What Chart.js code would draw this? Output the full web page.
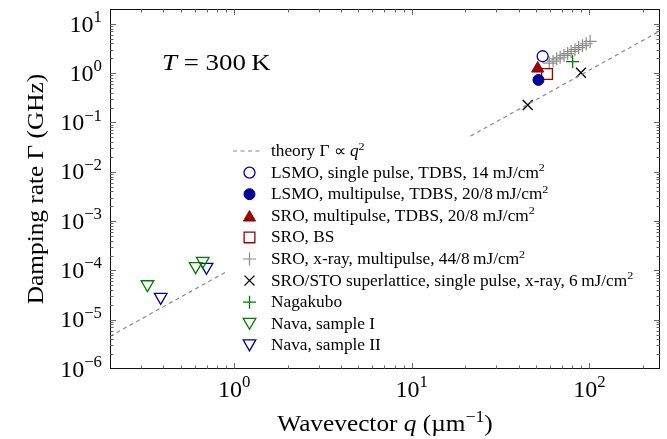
<!DOCTYPE html>
<html>
<head>
<meta charset="utf-8">
<script src="https://cdn.jsdelivr.net/npm/chart.js@4.4.1/dist/chart.umd.min.js"></script>
<style>
  html, body { margin: 0; padding: 0; background: #fff; }
  canvas { display: block; }
</style>
</head>
<body>
<canvas id="c" width="667" height="439"></canvas>
<script>
// Damping rate Γ (GHz) versus wavevector q (µm⁻¹), room temperature
const lsmoSingleQ = [54.6];
const lsmoSingleG = [2.2];
const lsmoMultiQ = [51.7];
const lsmoMultiG = [0.73];
const sroMultiQ = [51.2];
const sroMultiG = [1.24];
const sroBsQ = [57.8];
const sroBsG = [0.96];
const sroXrayQ = [59.5, 62.5, 65.5, 68.5, 72, 75.5, 79, 83, 87, 91.5, 96, 101];
const sroXrayG = [1.6, 1.75, 1.95, 2.1, 2.3, 2.5, 2.75, 3.0, 3.3, 3.6, 3.95, 4.4];
const superlatticeQ = [45, 89.7];
const superlatticeG = [0.226, 1.02];
const nagakuboQ = [80.5];
const nagakuboG = [1.71];
const navaIQ = [0.325, 0.607, 0.666];
const navaIG = [5.2e-5, 1.21e-4, 1.55e-4];
const navaIIQ = [0.386, 0.699];
const navaIIG = [2.88e-5, 1.17e-4];
// theory Γ ∝ q², drawn between the axis limits
const theoryQ = [0.2, 250];
const theoryG = [4.6e-6, 7.19];

const xTickDecades = [0, 1, 2];
const yTickDecades = [-6, -5, -4, -3, -2, -1, 0, 1];

const BLUE = '#000099', RED = '#990000', GREEN = '#007a00', GRAY = '#8a8a8a', BLACK = '#000';
const FONT = '"Liberation Serif", "Times New Roman", serif';

function pts(qs, gs) { return qs.map((q, i) => ({ x: q, y: gs[i] })); }

// Tiny markup: *x* italic, ^{x} superscript
function parseRich(s) {
  const parts = [];
  const re = /\*([^*]+)\*|\^\{([^}]*)\}/g;
  let last = 0, m;
  while ((m = re.exec(s))) {
    if (m.index > last) parts.push({ t: s.slice(last, m.index) });
    if (m[1] !== undefined) parts.push({ t: m[1], it: true });
    else parts.push({ t: m[2], sup: true });
    last = re.lastIndex;
  }
  if (last < s.length) parts.push({ t: s.slice(last) });
  return parts;
}

// Draws mixed upright/italic/superscript text; k widens the glyphs horizontally
function drawRich(ctx, str, x, y, size, align, k) {
  k = k || 1;
  const parts = parseRich(str);
  const fontFor = p => (p.it ? 'italic ' : '') + (p.sup ? size * 0.7 : size) + 'px ' + FONT;
  let w = 0;
  parts.forEach(p => { ctx.font = fontFor(p); p.w = ctx.measureText(p.t).width; w += p.w; });
  const sx = align === 'right' ? x - w * k : (align === 'center' ? x - w * k / 2 : x);
  ctx.save();
  ctx.translate(sx, y);
  ctx.scale(k, 1);
  ctx.textBaseline = 'alphabetic';
  ctx.textAlign = 'left';
  let cx = 0;
  parts.forEach(p => {
    ctx.font = fontFor(p);
    ctx.fillText(p.t, cx, p.sup ? -size * 0.4 : 0);
    cx += p.w;
  });
  ctx.restore();
  return w * k;
}

function decadeInfo(v) {
  const e = Math.floor(Math.log10(v) + 1e-9);
  const s = v / Math.pow(10, e);
  if (Math.abs(s - Math.round(s)) > 1e-6) return null;
  return { e: e, s: Math.round(s) };
}

function powLabel(e) { return '10^{' + (e < 0 ? '\u2212' + (-e) : e) + '}'; }

// Axes frame, inward tick marks on all four sides, tick labels, titles and legend
const framePlugin = {
  id: 'frame',
  afterDatasetsDraw(chart) {
    const ctx = chart.ctx;
    const a = chart.chartArea;
    const xs = chart.scales.x, ys = chart.scales.y;
    ctx.save();

    // legend panel with white background
    const lg = { x0: 228, y0: 137, x1: 642, y1: 356, markX: 249.5, textX: 271, rowY: 151, step: 21.6 };
    ctx.fillStyle = '#fff';
    ctx.fillRect(lg.x0, lg.y0, lg.x1 - lg.x0, lg.y1 - lg.y0);
    chart.data.datasets.forEach((ds, i) => {
      const y = lg.rowY + i * lg.step;
      if (ds.showLine) {
        ctx.save();
        ctx.strokeStyle = ds.borderColor;
        ctx.lineWidth = ds.borderWidth;
        ctx.setLineDash(ds.borderDash);
        ctx.beginPath();
        ctx.moveTo(233, y);
        ctx.lineTo(263, y);
        ctx.stroke();
        ctx.restore();
      } else {
        ctx.save();
        ctx.fillStyle = ds.pointBackgroundColor;
        ctx.strokeStyle = ds.pointBorderColor;
        ctx.lineWidth = ds.pointBorderWidth;
        const r = ds.pointRadius;
        const rot = ds.pointRotation || 0;
        const dy = ds.pointStyle === 'triangle' ? (rot === 180 ? -r / 4 : r / 4) : 0;
        Chart.helpers.drawPoint(ctx, { pointStyle: ds.pointStyle, radius: r, rotation: rot, borderWidth: ds.pointBorderWidth }, lg.markX, y + dy);
        ctx.restore();
      }
      ctx.fillStyle = '#000';
      drawRich(ctx, ds.label, lg.textX, y + 5, 16, 'left', 1.08);
    });

    // frame
    ctx.strokeStyle = '#111';
    ctx.lineWidth = 1;
    ctx.strokeRect(a.left + 0.5, a.top + 0.5, a.right - a.left - 1, a.bottom - a.top - 1);

    // tick marks
    ctx.strokeStyle = '#555';
    ctx.lineWidth = 0.9;
    ctx.beginPath();
    xs.ticks.forEach(t => {
      const info = decadeInfo(t.value);
      if (!info) return;
      const px = Math.round(xs.getPixelForValue(t.value)) + 0.5;
      if (px < a.left + 2 || px > a.right - 2) return;
      const len = info.s === 1 ? 6 : 3.5;
      ctx.moveTo(px, a.bottom); ctx.lineTo(px, a.bottom - len);
      ctx.moveTo(px, a.top); ctx.lineTo(px, a.top + len);
    });
    ys.ticks.forEach(t => {
      const info = decadeInfo(t.value);
      if (!info) return;
      const py = Math.round(ys.getPixelForValue(t.value)) + 0.5;
      if (py < a.top + 2 || py > a.bottom - 2) return;
      const len = info.s === 1 ? 6 : 3.5;
      ctx.moveTo(a.left, py); ctx.lineTo(a.left + len, py);
      ctx.moveTo(a.right, py); ctx.lineTo(a.right - len, py);
    });
    ctx.stroke();

    // tick labels
    ctx.fillStyle = '#000';
    xTickDecades.forEach(e => {
      const px = xs.getPixelForValue(Math.pow(10, e));
      drawRich(ctx, powLabel(e), px, 397, 24, 'center', 1);
    });
    yTickDecades.forEach(e => {
      const py = ys.getPixelForValue(Math.pow(10, e));
      drawRich(ctx, powLabel(e), 102, py + 7.7, 24, 'right', 1);
    });

    // axis titles
    drawRich(ctx, 'Wavevector *q* (\u00b5m^{\u22121})', (a.left + a.right) / 2, 431, 23, 'center', 1.1);
    ctx.save();
    ctx.translate(43, (a.top + a.bottom) / 2);
    ctx.rotate(-Math.PI / 2);
    drawRich(ctx, 'Damping rate \u0393 (GHz)', 0, 0, 23, 'center', 1.1);
    ctx.restore();

    // temperature note
    drawRich(ctx, '*T* = 300\u2009K', 162, 70, 24, 'left', 1.12);

    ctx.restore();
  }
};

const datasets = [
  { label: 'theory \u0393 \u221d *q*^{2}', data: pts(theoryQ, theoryG), showLine: true,
    borderColor: GRAY, borderWidth: 1.2, borderDash: [4, 3.5], pointRadius: 0, pointHoverRadius: 0 },
  { label: 'LSMO, single pulse, TDBS, 14 mJ/cm^{2}', data: pts(lsmoSingleQ, lsmoSingleG),
    pointStyle: 'circle', pointRadius: 5.5, pointBorderWidth: 1.3, pointBorderColor: BLUE, pointBackgroundColor: 'rgba(255,255,255,0)' },
  { label: 'LSMO, multipulse, TDBS, 20/8\u2009mJ/cm^{2}', data: pts(lsmoMultiQ, lsmoMultiG),
    pointStyle: 'circle', pointRadius: 5.5, pointBorderWidth: 1, pointBorderColor: BLUE, pointBackgroundColor: BLUE },
  { label: 'SRO, multipulse, TDBS, 20/8 mJ/cm^{2}', data: pts(sroMultiQ, sroMultiG),
    pointStyle: 'triangle', pointRadius: 7, pointBorderWidth: 1, pointBorderColor: RED, pointBackgroundColor: RED },
  { label: 'SRO, BS', data: pts(sroBsQ, sroBsG),
    pointStyle: 'rect', pointRadius: 7.6, pointBorderWidth: 1.3, pointBorderColor: RED, pointBackgroundColor: 'rgba(255,255,255,0)' },
  { label: 'SRO, x-ray, multipulse, 44/8\u2009mJ/cm^{2}', data: pts(sroXrayQ, sroXrayG),
    pointStyle: 'cross', pointRadius: 6.5, pointBorderWidth: 1.2, pointBorderColor: GRAY, pointBackgroundColor: GRAY },
  { label: 'SRO/STO superlattice, single pulse, x-ray, 6\u2009mJ/cm^{2}', data: pts(superlatticeQ, superlatticeG),
    pointStyle: 'crossRot', pointRadius: 7, pointBorderWidth: 1.3, pointBorderColor: BLACK, pointBackgroundColor: BLACK },
  { label: 'Nagakubo', data: pts(nagakuboQ, nagakuboG),
    pointStyle: 'cross', pointRadius: 6.5, pointBorderWidth: 1.3, pointBorderColor: GREEN, pointBackgroundColor: GREEN },
  { label: 'Nava, sample I', data: pts(navaIQ, navaIG),
    pointStyle: 'triangle', pointRotation: 180, pointRadius: 7.3, pointBorderWidth: 1.3, pointBorderColor: GREEN, pointBackgroundColor: 'rgba(255,255,255,0)' },
  { label: 'Nava, sample II', data: pts(navaIIQ, navaIIG),
    pointStyle: 'triangle', pointRotation: 180, pointRadius: 7.3, pointBorderWidth: 1.3, pointBorderColor: BLUE, pointBackgroundColor: 'rgba(255,255,255,0)' }
];

new Chart(document.getElementById('c'), {
  type: 'scatter',
  data: { datasets: datasets },
  options: {
    responsive: false,
    animation: false,
    devicePixelRatio: 1,
    events: [],
    layout: { autoPadding: false, padding: { top: 9, right: 7, left: 0, bottom: 0 } },
    plugins: { legend: { display: false }, tooltip: { enabled: false } },
    scales: {
      x: {
        type: 'logarithmic', min: 0.2, max: 250,
        grid: { display: false }, border: { display: false },
        ticks: { display: false, autoSkip: false },
        afterFit(s) { s.height = 70; }
      },
      y: {
        type: 'logarithmic', min: 1e-6, max: 20,
        grid: { display: false }, border: { display: false },
        ticks: { display: false, autoSkip: false },
        afterFit(s) { s.width = 110; }
      }
    }
  },
  plugins: [framePlugin]
});
</script>
</body>
</html>
